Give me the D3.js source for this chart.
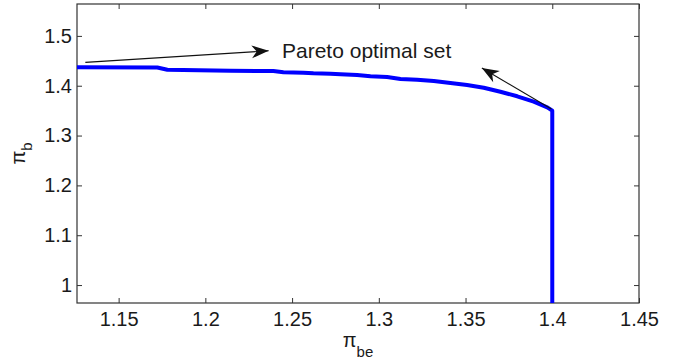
<!DOCTYPE html>
<html>
<head>
<meta charset="utf-8">
<script src="https://cdn.jsdelivr.net/npm/d3@7"></script>
<style>
	html, body { margin: 0; padding: 0; background: #fff; }
	svg text { font-family: "Liberation Sans", Arial, Helvetica, sans-serif; fill: #1a1a1a; }
	.tick line { stroke: #333; }
</style>
</head>
<body>
<div id="chart"></div>
<script>
// DATA
var piBe = [1.126, 1.1723, 1.1781, 1.2144, 1.2392, 1.2450, 1.2565, 1.2623, 1.2721, 1.2779,
	1.2875, 1.2952, 1.3048, 1.3125, 1.3221, 1.3317, 1.3413, 1.3509, 1.3605, 1.3701,
	1.3798, 1.3893, 1.3971, 1.4, 1.4];
var piB = [1.4369, 1.4365, 1.4321, 1.4301, 1.4295, 1.4269, 1.4261, 1.4249, 1.4240, 1.4228,
	1.4214, 1.4188, 1.4174, 1.4134, 1.4120, 1.4095, 1.4054, 1.4014, 1.3960, 1.3880,
	1.3788, 1.3679, 1.3567, 1.3499, 0.964];
var xTicks = [1.15, 1.2, 1.25, 1.3, 1.35, 1.4, 1.45];
var xTickLabels = ['1.15', '1.2', '1.25', '1.3', '1.35', '1.4', '1.45'];
var yTicks = [1, 1.1, 1.2, 1.3, 1.4, 1.5];
var yTickLabels = ['1', '1.1', '1.2', '1.3', '1.4', '1.5'];
var annotationText = 'Pareto optimal set';

(function(d3){
	'use strict';

	var W = 678, H = 360;
	var margin = { top: 4, right: 39, bot: 57, left: 77 };
	var width = W - margin.left - margin.right;
	var height = H - margin.top - margin.bot;

	var xScale = d3.scaleLinear().domain([1.126, 1.45]).range([0, width]);
	var yScale = d3.scaleLinear().domain([0.964, 1.564]).range([height, 0]);

	var svg = d3.select('#chart').append('svg')
		.attr('width', W)
		.attr('height', H);

	svg.append('defs').append('marker')
		.attr('id', 'head')
		.attr('markerUnits', 'userSpaceOnUse')
		.attr('viewBox', '-18 -8 20 16')
		.attr('markerWidth', 20)
		.attr('markerHeight', 16)
		.attr('refX', 0)
		.attr('refY', 0)
		.attr('orient', 'auto')
		.append('path')
		.attr('d', 'M0,0 L-17,-6.5 L-12,0 L-17,6.5 Z')
		.attr('fill', '#111');

	var g = svg.append('g')
		.attr('transform', 'translate(' + margin.left + ',' + margin.top + ')');

	// AXES (ticks pointing inward, box around)
	function fmt(ticks, labels) {
		return function(d) { return labels[ticks.indexOf(d)]; };
	}

	var xAxis = g.append('g')
		.attr('transform', 'translate(0,' + height + ')')
		.call(d3.axisBottom(xScale).tickValues(xTicks)
			.tickFormat(fmt(xTicks, xTickLabels)).tickSize(-5).tickPadding(9));
	var yAxis = g.append('g')
		.call(d3.axisLeft(yScale).tickValues(yTicks)
			.tickFormat(fmt(yTicks, yTickLabels)).tickSize(-5).tickPadding(5));
	var topAxis = g.append('g')
		.call(d3.axisTop(xScale).tickValues(xTicks).tickFormat('').tickSize(-5));
	var rightAxis = g.append('g')
		.attr('transform', 'translate(' + width + ',0)')
		.call(d3.axisRight(yScale).tickValues(yTicks).tickFormat('').tickSize(-5));

	[xAxis, yAxis, topAxis, rightAxis].forEach(function(a){
		a.select('.domain').remove();
		a.selectAll('text').attr('font-size', 20).attr('font-family', null);
	});

	g.append('rect')
		.attr('width', width)
		.attr('height', height)
		.attr('fill', 'none')
		.attr('stroke', '#333')
		.attr('stroke-width', 1.2);

	// PARETO FRONT
	var line = d3.line()
		.x(function(d, i) { return xScale(piBe[i]); })
		.y(function(d) { return yScale(d); });

	g.append('path')
		.datum(piB)
		.attr('d', line)
		.attr('fill', 'none')
		.attr('stroke', '#0000ff')
		.attr('stroke-width', 4)
		.attr('stroke-linejoin', 'round');

	// ANNOTATION
	var arrows = [
		{ from: [1.1308, 1.4469], to: [1.2365, 1.4701] },
		{ from: [1.3995, 1.3531], to: [1.3594, 1.4355] }
	];
	g.selectAll('line.arrow').data(arrows).enter().append('line')
		.attr('class', 'arrow')
		.attr('x1', function(d) { return xScale(d.from[0]); })
		.attr('y1', function(d) { return yScale(d.from[1]); })
		.attr('x2', function(d) { return xScale(d.to[0]); })
		.attr('y2', function(d) { return yScale(d.to[1]); })
		.attr('stroke', '#111')
		.attr('stroke-width', 1.1)
		.attr('marker-end', 'url(#head)');

	g.append('text')
		.attr('x', xScale(1.2442))
		.attr('y', yScale(1.4555))
		.attr('font-size', 21)
		.text(annotationText);

	// AXIS LABELS
	var xl = svg.append('text')
		.attr('x', margin.left + width / 2)
		.attr('y', 347)
		.attr('text-anchor', 'middle')
		.attr('font-size', 20);
	xl.append('tspan').text('π');
	xl.append('tspan').attr('dy', 10).attr('font-size', 15).text('be');

	var yl = svg.append('text')
		.attr('transform', 'translate(25,' + (margin.top + height / 2) + ') rotate(-90)')
		.attr('text-anchor', 'middle')
		.attr('font-size', 20);
	yl.append('tspan').text('π');
	yl.append('tspan').attr('dy', 7).attr('font-size', 15).text('b');

})(d3);
</script>
</body>
</html>
